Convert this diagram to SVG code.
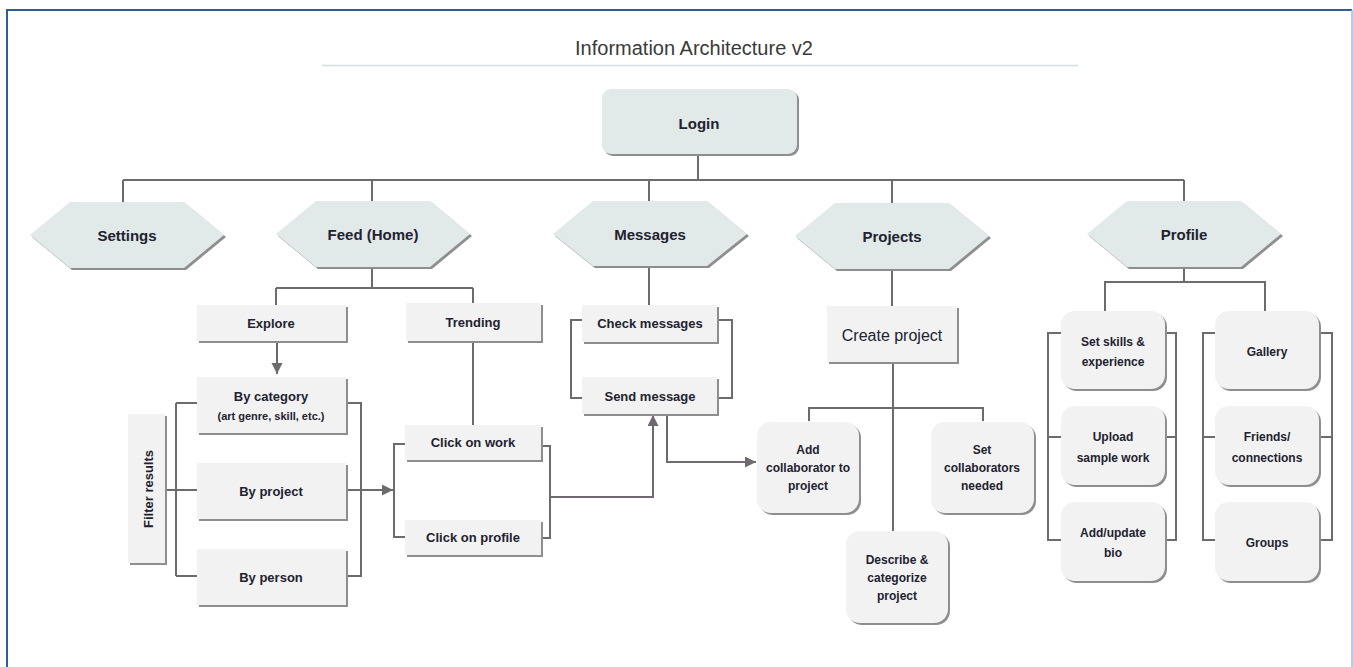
<svg xmlns="http://www.w3.org/2000/svg" width="1353" height="667" viewBox="0 0 1353 667">
<defs>
<style>
text{font-family:"Liberation Sans",Arial,sans-serif;fill:#222230;text-anchor:middle}
.t15{font-size:15px;font-weight:bold}
.t13{font-size:13px;font-weight:bold}
.t12{font-size:12px;font-weight:bold}
.t11{font-size:11px;font-weight:bold}
.hex{fill:#e1e9e9}
.box{fill:#f2f2f2}
.sh{fill:#8e8e8e}
.con{fill:none;stroke:#6f6a6f;stroke-width:2}
</style>
<marker id="ah" markerUnits="userSpaceOnUse" markerWidth="12" markerHeight="12" refX="11" refY="5.5" orient="auto">
<path d="M0,0 L11,5.5 L0,11 z" fill="#6f6a6f"/>
</marker>
</defs>
<rect width="1353" height="667" fill="#fff"/>
<g id="frame">
<line x1="7" y1="10" x2="7" y2="667" stroke="#2f5f92" stroke-width="2"/>
<line x1="6" y1="10" x2="1352" y2="10" stroke="#2f5f92" stroke-width="2"/>
<line x1="1352" y1="10" x2="1352" y2="667" stroke="#a7b8dc" stroke-width="1.5"/>
</g>
<g id="title">
<text x="694" y="55" style="font-size:20px;font-weight:normal;fill:#3a3a3a">Information Architecture v2</text>
<line x1="322" y1="65.5" x2="1078" y2="65.5" stroke="#d3dfdf" stroke-width="1.5"/>
</g>
<g id="connectors" class="con">
<path d="M698,154 V180 M123,180 H1184 M123,180 V202 M372,180 V201 M649,180 V201 M892,180 V203 M1184,180 V201"/>
<path d="M372,267 V288 M276,288 H473 M276,288 V305 M473,288 V303"/>
<path d="M277,341 V374" marker-end="url(#ah)"/>
<path d="M473,341 V425"/>
<path d="M165,490 H197 M176,403 V576 M176,403 H197 M176,576 H197"/>
<path d="M346,403 H361 V576 H346"/>
<path d="M346,490 H393" marker-end="url(#ah)"/>
<path d="M405,444 H394 V537 H405 M541,446 H550 V538 H541"/>
<path d="M550,497 H653 V415" marker-end="url(#ah)"/>
<path d="M649,266 V305 M582,320 H571 V398 H582 M717,320 H732 V398 H717"/>
<path d="M667,414 V462 H756" marker-end="url(#ah)"/>
<path d="M892,269 V306 M893,362 V531 M809,421 V408 H983 V421"/>
<path d="M1184,267 V282 M1105,311 V282 H1265 V311"/>
<path d="M1061,333 H1048 V540 H1061 M1048,437 H1061 M1165,333 H1176 V540 H1165 M1165,437 H1176"/>
<path d="M1215,333 H1203 V540 H1215 M1203,437 H1215 M1319,333 H1332 V540 H1319 M1319,437 H1332"/>
</g>
<g id="login">
<rect class="sh" x="604" y="91" width="195" height="65" rx="9"/>
<rect class="hex" x="602" y="89" width="195" height="65" rx="9"/>
<text class="t15" x="699" y="129">Login</text>
</g>
<g id="settings">
<polygon class="sh" points="32,237 72,204 186,204 226,237 186,270 72,270"/>
<polygon class="hex" points="30,235 70,202 184,202 224,235 184,268 70,268"/>
<text class="t15" x="127" y="241">Settings</text>
</g>
<g id="feed">
<polygon class="sh" points="278,236 318,203 432,203 472,236 432,269 318,269"/>
<polygon class="hex" points="276,234 316,201 430,201 470,234 430,267 316,267"/>
<text class="t15" x="373" y="240">Feed (Home)</text>
</g>
<g id="messages">
<polygon class="sh" points="555,236 595,203 709,203 749,236 709,268 595,268"/>
<polygon class="hex" points="553,234 593,201 707,201 747,234 707,266 593,266"/>
<text class="t15" x="650" y="240">Messages</text>
</g>
<g id="projects">
<polygon class="sh" points="797,238 837,205 951,205 991,238 951,271 837,271"/>
<polygon class="hex" points="795,236 835,203 949,203 989,236 949,269 835,269"/>
<text class="t15" x="892" y="242">Projects</text>
</g>
<g id="profile">
<polygon class="sh" points="1089,236 1129,203 1243,203 1283,236 1243,269 1129,269"/>
<polygon class="hex" points="1087,234 1127,201 1241,201 1281,234 1241,267 1127,267"/>
<text class="t15" x="1184" y="240">Profile</text>
</g>
<g id="explore">
<rect class="sh" x="199" y="307" width="149" height="36"/>
<rect class="box" x="197" y="305" width="149" height="36"/>
<text class="t13" x="271" y="328">Explore</text>
</g>
<g id="trending">
<rect class="sh" x="408" y="305" width="135" height="38"/>
<rect class="box" x="406" y="303" width="135" height="38"/>
<text class="t13" x="473" y="327">Trending</text>
</g>
<g id="by-category">
<rect class="sh" x="199" y="379" width="149" height="56"/>
<rect class="box" x="197" y="377" width="149" height="56"/>
<text class="t13" x="271" y="401">By category</text>
<text class="t11" x="271" y="420">(art genre, skill, etc.)</text>
</g>
<g id="by-project">
<rect class="sh" x="199" y="465" width="149" height="56"/>
<rect class="box" x="197" y="463" width="149" height="56"/>
<text class="t13" x="271" y="496">By project</text>
</g>
<g id="by-person">
<rect class="sh" x="199" y="551" width="149" height="56"/>
<rect class="box" x="197" y="549" width="149" height="56"/>
<text class="t13" x="271" y="582">By person</text>
</g>
<g id="filter-results">
<rect class="sh" x="130" y="416" width="37" height="149"/>
<rect class="box" x="128" y="414" width="37" height="149"/>
<text class="t13" x="153" y="489" transform="rotate(-90 153 489)">Filter results</text>
</g>
<g id="click-work">
<rect class="sh" x="407" y="427" width="136" height="35"/>
<rect class="box" x="405" y="425" width="136" height="35"/>
<text class="t13" x="473" y="447">Click on work</text>
</g>
<g id="click-profile">
<rect class="sh" x="407" y="522" width="136" height="35"/>
<rect class="box" x="405" y="520" width="136" height="35"/>
<text class="t13" x="473" y="542">Click on profile</text>
</g>
<g id="check-messages">
<rect class="sh" x="584" y="307" width="135" height="37"/>
<rect class="box" x="582" y="305" width="135" height="37"/>
<text class="t13" x="650" y="328">Check messages</text>
</g>
<g id="send-message">
<rect class="sh" x="584" y="379" width="135" height="37"/>
<rect class="box" x="582" y="377" width="135" height="37"/>
<text class="t13" x="650" y="401">Send message</text>
</g>
<g id="create-project">
<rect class="sh" x="829" y="308" width="130" height="56"/>
<rect class="box" x="827" y="306" width="130" height="56"/>
<text x="892" y="341" style="font-size:16px">Create project</text>
</g>
<g id="add-collaborator">
<rect class="sh" x="759" y="424" width="102" height="91" rx="14"/>
<rect class="box" x="757" y="422" width="102" height="91" rx="14"/>
<text class="t12" x="808" y="454">Add</text>
<text class="t12" x="808" y="472">collaborator to</text>
<text class="t12" x="808" y="490">project</text>
</g>
<g id="set-collaborators">
<rect class="sh" x="933" y="424" width="103" height="91" rx="14"/>
<rect class="box" x="931" y="422" width="103" height="91" rx="14"/>
<text class="t12" x="982" y="454">Set</text>
<text class="t12" x="982" y="472">collaborators</text>
<text class="t12" x="982" y="490">needed</text>
</g>
<g id="describe">
<rect class="sh" x="848" y="533" width="102" height="92" rx="14"/>
<rect class="box" x="846" y="531" width="102" height="92" rx="14"/>
<text class="t12" x="897" y="564">Describe &amp;</text>
<text class="t12" x="897" y="582">categorize</text>
<text class="t12" x="897" y="600">project</text>
</g>
<g id="set-skills">
<rect class="sh" x="1063" y="313" width="104" height="78" rx="14"/>
<rect class="box" x="1061" y="311" width="104" height="78" rx="14"/>
<text class="t12" x="1113" y="346">Set skills &amp;</text>
<text class="t12" x="1113" y="366">experience</text>
</g>
<g id="upload">
<rect class="sh" x="1063" y="408" width="104" height="79" rx="14"/>
<rect class="box" x="1061" y="406" width="104" height="79" rx="14"/>
<text class="t12" x="1113" y="441">Upload</text>
<text class="t12" x="1113" y="462">sample work</text>
</g>
<g id="add-bio">
<rect class="sh" x="1063" y="504" width="104" height="79" rx="14"/>
<rect class="box" x="1061" y="502" width="104" height="79" rx="14"/>
<text class="t12" x="1113" y="537">Add/update</text>
<text class="t12" x="1113" y="557">bio</text>
</g>
<g id="gallery">
<rect class="sh" x="1217" y="313" width="104" height="78" rx="14"/>
<rect class="box" x="1215" y="311" width="104" height="78" rx="14"/>
<text class="t12" x="1267" y="356">Gallery</text>
</g>
<g id="friends">
<rect class="sh" x="1217" y="408" width="104" height="79" rx="14"/>
<rect class="box" x="1215" y="406" width="104" height="79" rx="14"/>
<text class="t12" x="1267" y="441">Friends/</text>
<text class="t12" x="1267" y="462">connections</text>
</g>
<g id="groups">
<rect class="sh" x="1217" y="504" width="104" height="79" rx="14"/>
<rect class="box" x="1215" y="502" width="104" height="79" rx="14"/>
<text class="t12" x="1267" y="547">Groups</text>
</g>
</svg>
